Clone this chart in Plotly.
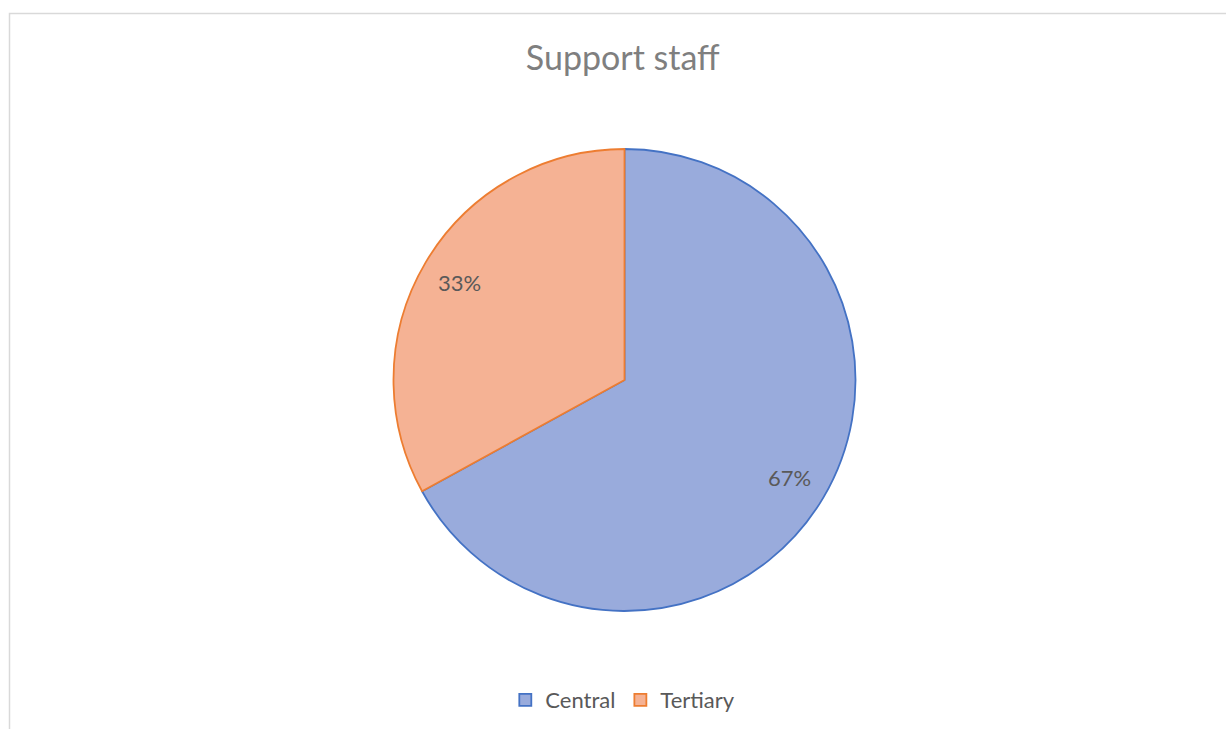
import math
import plotly.graph_objects as go

labels = ["Central", "Tertiary"]
values = [67, 33]
fill_colors = ["#99ABDC", "#F5B294"]
line_colors = ["#4472C4", "#ED7D31"]
title_text = "Support staff"

W, H = 1226, 729
# pie domain in paper coords
dom_x = [393 / W, 856 / W]
dom_y = [(H - 611) / H, (H - 149) / H]

fig = go.Figure()
fig.add_trace(go.Pie(
    labels=labels,
    values=values,
    sort=False,
    direction="clockwise",
    rotation=0,
    textinfo="none",
    hoverinfo="label+percent",
    marker=dict(colors=fill_colors, line=dict(color=line_colors, width=1.8)),
    domain=dict(x=dom_x, y=dom_y),
    showlegend=True,
))

# percentage labels placed at slice mid-angles, derived from the values
total = sum(values)
cx = (dom_x[0] + dom_x[1]) / 2 * W
cy = (1 - (dom_y[0] + dom_y[1]) / 2) * H
R = (dom_x[1] - dom_x[0]) * W / 2
annotations = []
cum = 0
for v in values:
    frac = v / total
    mid = (cum + frac / 2) * 2 * math.pi
    cum += frac
    px = cx + 0.83 * R * math.sin(mid)
    py = cy - 0.83 * R * math.cos(mid)
    annotations.append(dict(
        x=px / W, y=1 - py / H, xref="paper", yref="paper",
        text=f"{round(frac * 100)}%", showarrow=False,
        font=dict(family="Lato, Noto Sans, sans-serif", size=22, color="#595959"),
        xanchor="center", yanchor="middle",
    ))

fig.update_layout(
    width=W, height=H,
    margin=dict(l=0, r=0, t=0, b=0),
    paper_bgcolor="white",
    plot_bgcolor="white",
    title=dict(
        text=title_text, x=0.508, xanchor="center", y=(H - 58) / H, yanchor="middle",
        font=dict(family="Lato, Noto Sans, sans-serif", size=34, color="#7F7F7F"),
    ),
    legend=dict(
        orientation="h", x=0.508, xanchor="center", y=(H - 700) / H, yanchor="middle",
        font=dict(family="Lato, Noto Sans, sans-serif", size=22, color="#595959"),
        itemwidth=30,
    ),
    annotations=annotations,
    shapes=[dict(
        type="rect", xref="paper", yref="paper",
        x0=9.5 / W, x1=1.05, y0=-0.05, y1=(H - 13.5) / H,
        line=dict(color="#D9D9D9", width=1.5), fillcolor="rgba(0,0,0,0)", layer="below",
    )],
)

fig.write_html("out.html")
